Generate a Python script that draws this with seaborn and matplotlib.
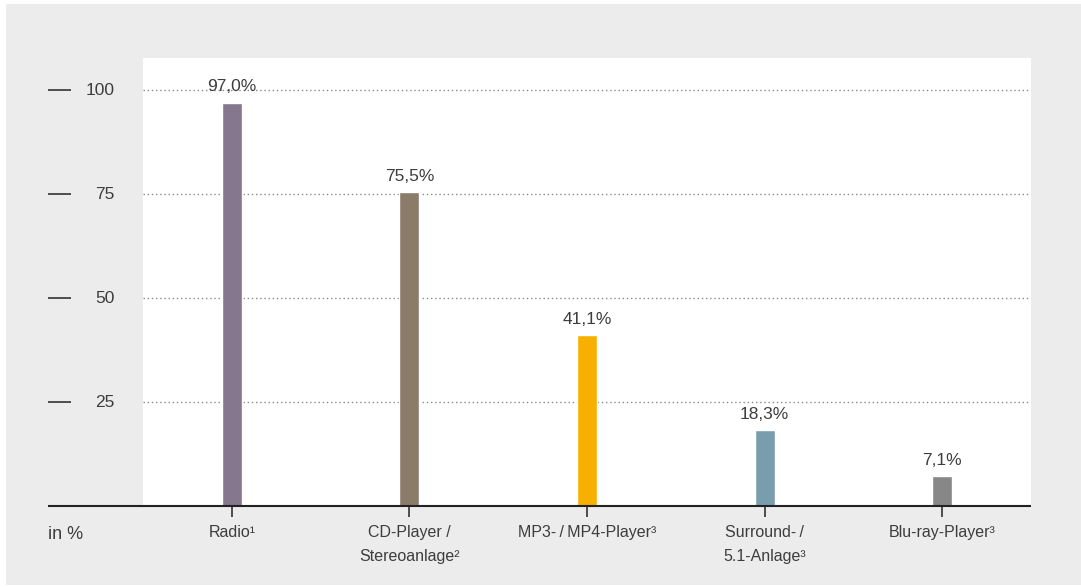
import matplotlib
matplotlib.use("Agg")
import matplotlib.pyplot as plt
from matplotlib.patches import Rectangle
import pandas as pd
import seaborn as sns

# Geräteausstattung der Haushalte (Anteil in %)
categories = [
    "Radio\u00b9",
    "CD-Player /\nStereoanlage\u00b2",
    "MP3-\u2009/\u2009MP4-Player\u00b3",
    "Surround-\u2009/\n5.1-Anlage\u00b3",
    "Blu-ray-Player\u00b3",
]
values = [97.0, 75.5, 41.1, 18.3, 7.1]
bar_colors = ["#85778d", "#8a7c69", "#f7b000", "#7a9dae", "#878787"]
y_ticks = [25, 50, 75, 100]
unit_label = "in %"

sns.set_theme(style="white")
plt.rcParams["font.family"] = ["Liberation Sans", "DejaVu Sans"]

TEXT = "#3d3d3d"
W, H = 1081, 587
fig = plt.figure(figsize=(W / 100, H / 100), dpi=100)
fig.patch.set_facecolor("white")

# grey card behind the chart
fig.patches.append(Rectangle((6 / W, 2 / H), (W - 6) / W, (H - 6) / H,
                             transform=fig.transFigure, facecolor="#ebeceb",
                             edgecolor="none", zorder=-10))

left, right, top, base = 143, 1031, 58, 506
ax = fig.add_axes([left / W, (H - base) / H, (right - left) / W, (base - top) / H])
ax.set_facecolor("white")

df = pd.DataFrame({"Gerät": categories, "Anteil": values})
sns.barplot(data=df, x="Gerät", y="Anteil", hue="Gerät", palette=bar_colors,
            width=0.113, legend=False, ax=ax, saturation=1, zorder=3)

ax.set_xlim(-0.5, len(categories) - 0.5)
ax.set_ylim(0, 107.7)
for s in ax.spines.values():
    s.set_visible(False)
ax.set_xlabel("")
ax.set_ylabel("")

# dotted grid lines
for yv in y_ticks:
    ax.axhline(yv, color="#8a8a8a", lw=1.0, ls=(0, (1, 2)), zorder=1)

# y scale: dash followed by the value, placed in the grey margin
ax.set_yticks([])
ytr = ax.get_yaxis_transform()
x0 = (48 - left) / (right - left)
x1 = (71 - left) / (right - left)
xl = (115 - left) / (right - left)
for yv in y_ticks:
    ax.plot([x0, x1], [yv, yv], transform=ytr, color="#333333", lw=1.2,
            clip_on=False, solid_capstyle="butt")
    ax.text(xl, yv, f"{yv}", transform=ytr, ha="right", va="center",
            fontsize=12.5, color=TEXT)

# baseline extending into the margin
ax.plot([x0, 1], [0, 0], transform=ytr, color="#222222", lw=1.5,
        clip_on=False, solid_capstyle="butt", zorder=4)
ax.text(x0, -6.8, unit_label, transform=ytr, ha="left", va="center",
        fontsize=13, color=TEXT)

# category ticks and labels
ax.set_xticks(range(len(categories)))
ax.set_xticklabels(categories, fontsize=11.5, color=TEXT, linespacing=1.75,
                   va="top")
ax.tick_params(axis="x", direction="out", length=8, width=1.2,
               color="#333333", pad=6, bottom=True)

# value labels
for cont in ax.containers:
    ax.bar_label(cont, labels=[f"{v:.1f}".replace(".", ",") + "%" for v in cont.datavalues],
                 padding=6, fontsize=12.5, color=TEXT)

fig.savefig("out.png", dpi=100, facecolor=fig.get_facecolor())
